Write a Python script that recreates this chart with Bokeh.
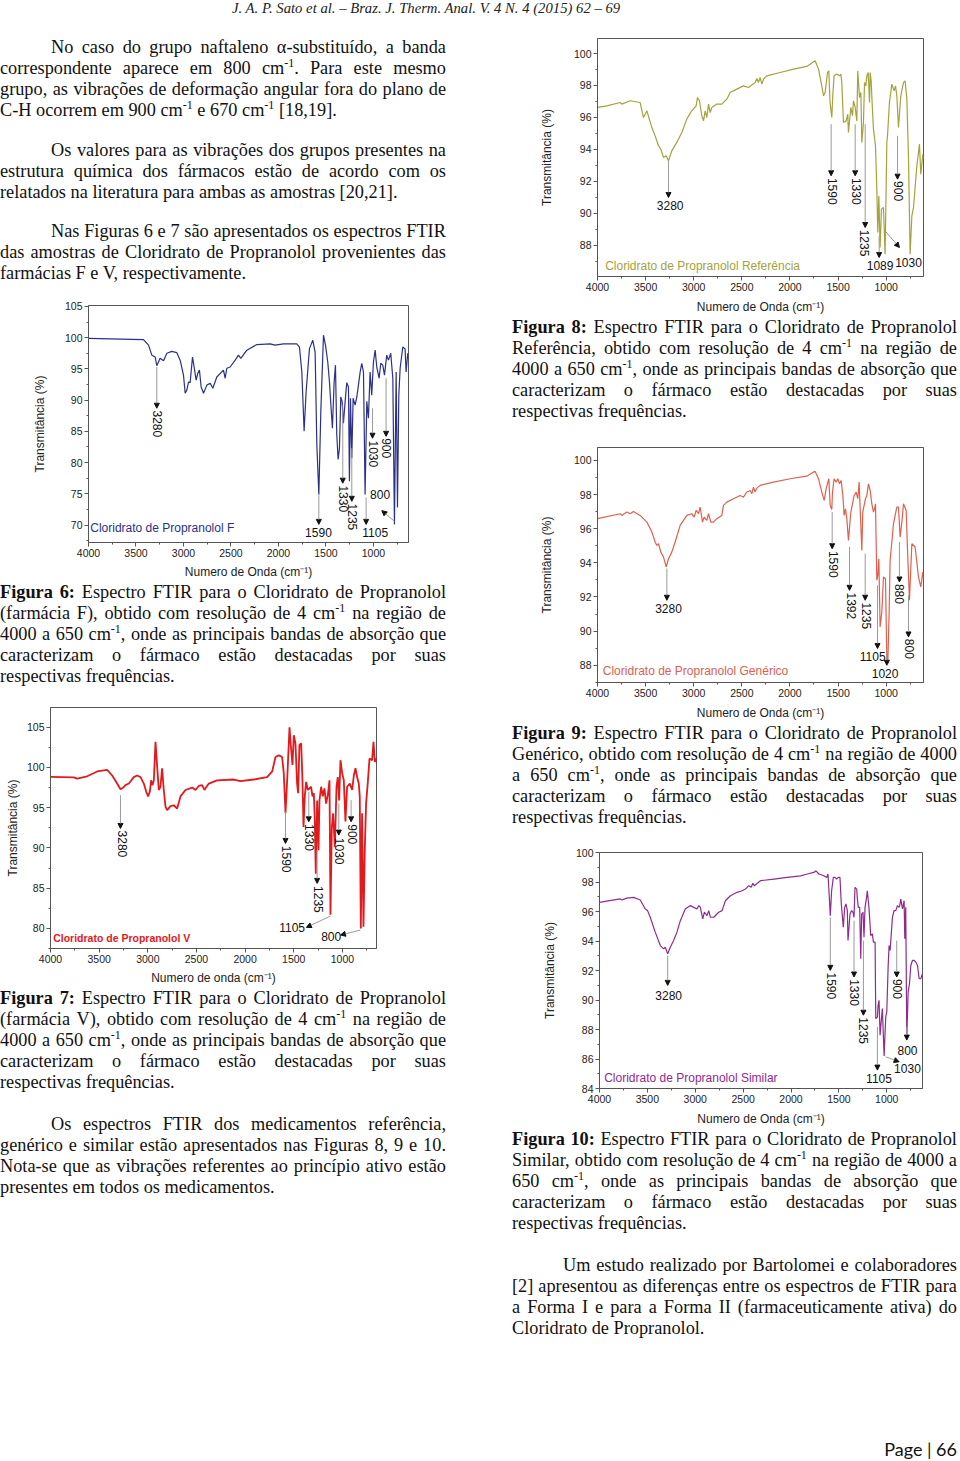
from bokeh.plotting import figure
from bokeh.models import Range1d, FixedTicker, Div, Spacer, Arrow, NormalHead, ColumnDataSource
from bokeh.layouts import column, row
from bokeh.core.properties import value
from bokeh.embed import file_html
from bokeh.resources import INLINE

# ---------------- data ----------------
X_TICKS = [4000, 3500, 3000, 2500, 2000, 1500, 1000]
X_MINOR = [3750, 3250, 2750, 2250, 1750, 1250, 750]

# Figura 6 - farmácia F  (wavenumber, transmittance)
F_PTS = [(4000, 99.9), (3421, 99.7), (3368, 98.8), (3333, 97.2), (3298, 96.9), (3281, 95.5), (3246, 96.7),
         (3210, 96.3), (3175, 97.5), (3123, 97.8), (3070, 97.6), (3035, 96.4), (3000, 94.0), (2982, 91.1),
         (2965, 91.6), (2947, 92.9), (2930, 92.8), (2905, 96.9), (2888, 95.3), (2867, 93.2), (2849, 94.3),
         (2832, 94.8), (2814, 92.1), (2789, 91.1), (2754, 92.4), (2719, 92.7), (2691, 91.9), (2649, 93.7),
         (2579, 94.8), (2561, 93.5), (2544, 95.1), (2509, 95.3), (2456, 96.4), (2421, 97.2), (2396, 96.7),
         (2333, 98.0), (2228, 98.9), (2088, 99.0), (2035, 98.8), (1947, 99.0), (1807, 99.0), (1779, 98.5),
         (1754, 94.5), (1730, 85.0), (1709, 91.3), (1674, 98.2), (1639, 99.6), (1614, 97.7), (1596, 82.8),
         (1575, 74.9), (1554, 88.2), (1526, 100.4), (1505, 98.8), (1481, 96.1), (1463, 92.9), (1446, 88.7),
         (1432, 85.5), (1414, 92.9), (1400, 95.6), (1386, 84.4), (1372, 80.5), (1358, 82.3), (1344, 90.5),
         (1330, 89.8), (1316, 86.3), (1298, 89.8), (1281, 92.8), (1263, 92.1), (1253, 77.0), (1242, 90.3),
         (1228, 80.7), (1214, 90.3), (1193, 89.2), (1175, 90.5), (1158, 92.4), (1140, 94.5), (1123, 95.9),
         (1105, 94.5), (1088, 74.9), (1070, 89.8), (1053, 87.1), (1035, 94.5), (1018, 90.8), (1000, 96.1),
         (982, 98.0), (965, 95.3), (940, 93.5), (923, 95.9), (902, 95.6), (884, 94.0), (860, 97.2),
         (842, 96.4), (818, 97.5), (796, 93.5), (779, 70.1), (761, 94.5), (747, 72.8), (733, 90.8),
         (719, 95.1), (691, 98.5), (667, 98.2), (656, 94.5), (639, 97.5)]
F_YTICKS = [70, 75, 80, 85, 90, 95, 100, 105]
F_YMINOR = [67.5, 72.5, 77.5, 82.5, 87.5, 92.5, 97.5, 102.5]
F_ARROWS = [(3281, 95.3, 3281, 88.7), (1575, 74.9, 1575, 70.1), (1323, 89.2, 1323, 76.7),
            (1228, 82.3, 1228, 73.8), (1077, 74.4, 1077, 70.1), (1010, 88.7, 1010, 83.9),
            (867, 93.5, 867, 84.2), (779, 70.6, 912, 72.3)]
F_LABELS = [("3280", 3274, 86.2, -90), ("1590", 1579, 68.8, 0), ("1330", 1316, 74.2, -90),
            ("1235", 1217, 71.3, -90), ("1105", 982, 68.8, 0), ("1030", 1000, 81.4, -90),
            ("900", 867, 82.3, -90), ("800", 930, 74.9, 0)]

# Figura 7 - farmácia V
V_PTS = [(4000, 98.84), (3760, 98.76), (3726, 98.6), (3623, 98.9), (3520, 99.5), (3418, 99.7), (3366, 99.0),
         (3315, 98.0), (3281, 97.3), (3253, 97.5), (3229, 97.8), (3195, 98.0), (3144, 98.8), (3110, 99.0),
         (3075, 98.8), (3041, 98.0), (3017, 97.0), (2997, 96.4), (2979, 97.0), (2966, 98.4), (2952, 97.8),
         (2938, 98.4), (2921, 103.2), (2904, 100.1), (2887, 97.2), (2870, 97.6), (2853, 99.9), (2836, 97.2),
         (2818, 95.1), (2801, 94.7), (2767, 95.2), (2733, 95.3), (2699, 94.9), (2664, 96.4), (2613, 97.2),
         (2544, 97.5), (2510, 97.2), (2476, 97.7), (2442, 97.8), (2418, 97.2), (2397, 97.6), (2373, 98.0),
         (2288, 98.4), (2116, 98.5), (2048, 98.3), (1911, 98.5), (1774, 98.8), (1722, 99.5), (1688, 101.3),
         (1654, 101.5), (1620, 101.3), (1603, 99.3), (1585, 94.3), (1568, 98.4), (1544, 105.0), (1527, 102.2),
         (1513, 100.3), (1500, 104.0), (1483, 103.0), (1466, 98.0), (1455, 96.8), (1442, 102.8), (1424, 103.0),
         (1411, 98.4), (1400, 92.6), (1387, 96.4), (1373, 98.2), (1356, 97.2), (1339, 97.4), (1322, 97.6),
         (1308, 96.4), (1294, 96.8), (1284, 93.5), (1274, 86.8), (1260, 95.9), (1246, 89.7), (1236, 95.9),
         (1219, 97.6), (1202, 96.4), (1185, 97.4), (1168, 95.5), (1150, 96.6), (1133, 98.4), (1123, 81.7),
         (1109, 92.6), (1096, 94.3), (1078, 90.1), (1061, 97.6), (1048, 98.8), (1034, 95.9), (1020, 100.9),
         (1003, 99.3), (986, 98.4), (969, 93.3), (952, 97.6), (924, 98.0), (900, 97.2), (883, 99.0),
         (866, 99.9), (849, 98.8), (832, 98.0), (822, 96.4), (811, 80.0), (798, 94.3), (784, 80.2),
         (770, 90.1), (757, 95.5), (739, 98.2), (722, 101.1), (695, 100.9), (681, 103.2), (667, 100.7),
         (650, 101.1)]
V_YTICKS = [80, 85, 90, 95, 100, 105]
V_YMINOR = [77.5, 82.5, 87.5, 92.5, 97.5, 102.5]
V_ARROWS = [(3281, 96.56, 3281, 92.42), (1585, 94.49, 1585, 90.56), (1346, 96.98, 1346, 93.25),
            (1260, 89.73, 1260, 85.59), (1037, 95.53, 1037, 91.59), (911, 95.94, 911, 93.25),
            (1123, 81.53, 1370, 80.12), (815, 79.79, 1020, 79.17)]
V_LABELS = [("3280", 3264, 90.5, -90), ("1590", 1579, 88.6, -90), ("1330", 1339, 91.3, -90),
            ("1235", 1243, 83.6, -90), ("1030", 1031, 89.6, -90), ("900", 900, 91.7, -90),
            ("1105", 1517, 80.12, 0), ("800", 1116, 79.05, 0)]

# Figura 8 - Referência
R_PTS = [(4000, 96.62), (3903, 96.72), (3764, 96.93), (3747, 96.83), (3661, 97.04), (3557, 96.93),
         (3522, 95.99), (3487, 96.41), (3435, 95.36), (3401, 94.84), (3366, 94.22), (3342, 94.01),
         (3314, 93.49), (3286, 93.59), (3262, 93.28), (3228, 93.90), (3176, 94.43), (3124, 95.05),
         (3072, 95.89), (3020, 96.41), (2975, 96.72), (2961, 97.24), (2940, 97.04), (2916, 96.10),
         (2898, 95.78), (2881, 96.41), (2864, 95.99), (2846, 96.83), (2829, 96.30), (2812, 96.62),
         (2760, 96.83), (2708, 96.83), (2656, 97.14), (2621, 97.56), (2552, 97.77), (2483, 97.97),
         (2431, 97.87), (2362, 98.18), (2344, 98.43), (2327, 98.18), (2310, 98.50), (2292, 98.08),
         (2275, 98.39), (2240, 98.60), (2102, 98.81), (1963, 99.02), (1825, 99.19), (1738, 99.54),
         (1703, 99.02), (1669, 97.97), (1651, 97.35), (1634, 97.56), (1610, 98.81), (1596, 98.91),
         (1583, 96.93), (1565, 95.99), (1555, 97.35), (1541, 98.60), (1513, 98.71), (1485, 98.60),
         (1471, 98.71), (1461, 98.18), (1444, 95.68), (1416, 95.78), (1399, 96.20), (1392, 95.05),
         (1367, 96.62), (1350, 96.10), (1340, 97.04), (1322, 96.62), (1305, 95.78), (1295, 98.91),
         (1277, 97.24), (1263, 97.56), (1253, 94.43), (1236, 95.68), (1225, 98.18), (1211, 97.97),
         (1201, 98.60), (1187, 98.81), (1173, 96.93), (1166, 98.81), (1156, 98.29), (1146, 96.93),
         (1132, 95.26), (1111, 94.22), (1097, 91.50), (1087, 88.79), (1076, 91.08), (1063, 87.85),
         (1049, 90.25), (1028, 90.35), (1011, 87.43), (993, 94.43), (986, 94.84), (966, 96.93),
         (941, 98.08), (917, 97.66), (903, 97.97), (889, 97.35), (872, 95.36), (848, 97.35),
         (820, 98.18), (803, 98.29), (785, 97.14), (768, 93.49), (751, 87.43), (733, 89.83),
         (716, 90.35), (681, 92.96), (654, 94.32), (640, 92.44), (619, 93.69), (612, 93.38)]
R_YTICKS = [86, 88, 90, 92, 94, 96, 98, 100]
R_YMINOR = [87, 89, 91, 93, 95, 97, 99]
R_ARROWS = [(3262, 93.28, 3262, 90.98), (1572, 95.57, 1572, 92.34), (1322, 95.57, 1322, 92.34),
            (1218, 95.57, 1218, 89.10), (1073, 88.58, 1073, 87.22), (1011, 88.89, 862, 87.85),
            (882, 94.84, 882, 92.13)]
R_LABELS = [("3280", 3245, 90.46, 0), ("1590", 1556, 91.37, -90), ("1330", 1306, 91.37, -90),
            ("1235", 1230, 88.13, -90), ("1089", 1063, 86.70, 0), ("1030", 768, 86.91, 0),
            ("900", 872, 91.38, -90)]

# Figura 9 - Genérico
G_PTS = [(4000, 96.59), (3764, 96.88), (3747, 96.78), (3695, 96.98), (3661, 96.88), (3626, 97.01),
         (3557, 96.78), (3487, 96.39), (3435, 95.81), (3401, 95.22), (3383, 95.02), (3366, 95.12),
         (3342, 94.63), (3314, 94.34), (3286, 93.76), (3262, 94.24), (3228, 94.63), (3193, 95.22),
         (3141, 96.20), (3072, 96.78), (3020, 96.88), (2995, 96.68), (2975, 97.07), (2950, 96.88),
         (2933, 97.27), (2909, 96.39), (2892, 96.68), (2864, 96.49), (2846, 96.88), (2822, 96.39),
         (2795, 96.39), (2760, 96.59), (2708, 96.78), (2691, 97.37), (2656, 97.56), (2587, 97.76),
         (2517, 97.95), (2483, 97.85), (2448, 98.15), (2413, 98.24), (2396, 98.05), (2379, 98.44),
         (2362, 98.15), (2344, 98.38), (2310, 98.54), (2171, 98.73), (1998, 98.93), (1825, 99.08),
         (1755, 99.32), (1738, 99.36), (1703, 98.93), (1669, 98.15), (1644, 97.66), (1624, 98.34),
         (1596, 98.93), (1582, 97.37), (1565, 97.13), (1558, 98.15), (1541, 98.93), (1520, 98.73),
         (1502, 98.93), (1485, 98.63), (1468, 98.83), (1450, 97.95), (1437, 96.78), (1423, 97.17),
         (1409, 96.59), (1392, 95.32), (1367, 96.98), (1350, 97.46), (1333, 97.95), (1312, 98.15),
         (1295, 97.76), (1281, 98.73), (1270, 97.17), (1253, 94.73), (1243, 96.98), (1229, 97.37),
         (1215, 97.76), (1201, 97.95), (1184, 98.63), (1166, 98.24), (1149, 97.46), (1132, 96.98),
         (1121, 97.17), (1111, 97.46), (1097, 92.98), (1087, 93.27), (1076, 94.24), (1063, 90.24),
         (1045, 91.12), (1028, 93.17), (1007, 93.07), (993, 88.29), (983, 88.10), (969, 91.12),
         (959, 94.15), (941, 95.22), (924, 96.29), (907, 96.78), (889, 97.27), (872, 97.27),
         (855, 95.51), (837, 96.39), (820, 97.46), (792, 97.07), (778, 94.73), (758, 91.81),
         (733, 95.12), (699, 94.93), (664, 93.17), (640, 92.59), (619, 93.46), (612, 93.07)]
G_YTICKS = [88, 90, 92, 94, 96, 98, 100]
G_YMINOR = [87, 89, 91, 93, 95, 97, 99]
G_ARROWS = [(3279, 93.66, 3279, 91.81), (1561, 96.98, 1561, 94.83), (1381, 94.93, 1381, 92.39),
            (1218, 94.54, 1218, 91.81), (1090, 92.68, 1090, 88.98), (993, 88.59, 993, 88.00),
            (862, 95.22, 862, 92.88), (768, 92.10, 768, 89.66)]
G_LABELS = [("3280", 3262, 91.32, 0), ("1590", 1550, 93.92, -90), ("1392", 1362, 91.48, -90),
            ("1235", 1200, 90.9, -90), ("1105", 1140, 88.49, 0), ("1020", 1011, 87.51, 0),
            ("880", 862, 92.18, -90), ("800", 755, 88.96, -90)]

# Figura 10 - Similar
S_PTS = [(4000, 96.62), (3784, 96.85), (3766, 96.78), (3714, 96.91), (3644, 96.96), (3574, 96.78),
         (3522, 96.17), (3498, 96.06), (3470, 95.61), (3418, 94.60), (3365, 93.69), (3330, 93.47),
         (3313, 93.58), (3288, 93.13), (3261, 93.58), (3226, 94.03), (3191, 94.60), (3156, 95.38),
         (3104, 96.17), (3051, 96.40), (3016, 96.28), (2982, 96.17), (2964, 96.40), (2947, 96.28),
         (2922, 95.50), (2905, 95.95), (2877, 95.72), (2859, 96.06), (2842, 95.61), (2807, 95.61),
         (2755, 95.95), (2720, 96.06), (2685, 96.73), (2633, 97.07), (2563, 97.30), (2511, 97.41),
         (2476, 97.52), (2441, 97.75), (2416, 97.64), (2399, 97.91), (2382, 97.75), (2361, 97.86),
         (2319, 98.09), (2179, 98.20), (2040, 98.31), (1900, 98.42), (1830, 98.54), (1761, 98.65),
         (1740, 98.76), (1708, 98.54), (1656, 98.42), (1628, 98.31), (1614, 98.54), (1600, 96.96),
         (1590, 95.72), (1576, 97.41), (1558, 98.31), (1541, 98.31), (1524, 98.20), (1506, 98.31),
         (1489, 98.31), (1475, 96.51), (1454, 94.93), (1440, 96.28), (1426, 96.51), (1412, 96.06),
         (1405, 94.03), (1384, 95.83), (1367, 96.06), (1353, 95.95), (1342, 95.61), (1332, 97.64),
         (1314, 97.52), (1307, 96.85), (1297, 96.28), (1283, 96.28), (1272, 92.79), (1262, 95.83),
         (1248, 95.95), (1238, 94.26), (1227, 96.28), (1213, 96.85), (1203, 97.41), (1185, 96.17),
         (1168, 94.37), (1150, 94.48), (1140, 93.92), (1122, 93.92), (1115, 88.74), (1098, 88.85),
         (1091, 89.64), (1081, 89.98), (1070, 87.61), (1063, 88.18), (1046, 89.42), (1028, 86.20),
         (1011, 88.85), (1000, 89.19), (986, 92.23), (976, 93.69), (965, 93.36), (941, 95.61),
         (924, 96.06), (906, 96.06), (889, 96.40), (871, 96.28), (861, 96.51), (854, 96.85),
         (836, 96.17), (819, 96.73), (812, 94.15), (802, 96.28), (791, 87.39), (777, 90.54),
         (763, 91.10), (749, 92.34), (732, 92.68), (714, 92.68), (697, 92.57), (679, 92.34),
         (662, 91.44), (645, 91.44), (627, 91.78)]
S_YTICKS = [84, 86, 88, 90, 92, 94, 96, 98, 100]
S_YMINOR = [85, 87, 89, 91, 93, 95, 97, 99]
S_ARROWS = [(3288, 93.02, 3288, 90.99), (1590, 95.61, 1590, 92.01), (1342, 95.38, 1342, 91.56),
            (1244, 94.03, 1244, 88.97), (1098, 88.18, 1098, 85.25), (1011, 86.15, 871, 85.81),
            (896, 94.03, 896, 91.56), (791, 88.18, 791, 87.28)]
S_LABELS = [("3280", 3278, 90.32, 0), ("1590", 1579, 90.96, -90), ("1330", 1332, 90.51, -90),
            ("1235", 1244, 87.92, -90), ("1105", 1081, 84.69, 0), ("1030", 784, 85.36, 0),
            ("900", 889, 90.75, -90), ("800", 784, 86.60, 0)]

# ---------------- helpers ----------------
SANS = "Liberation Sans"
SERIF = "'Liberation Serif', 'Times New Roman', serif"


def spectrum(pts, color, lw, x_end, y_lo, y_hi, yt, ym, W, H, bl, br, bt, bb, ystand, xstand,
             xtitle, legend, leg_x, leg_y, leg_style, leg_size, arrows, labels):
    p = figure(width=W, height=H, x_range=Range1d(4000, x_end), y_range=Range1d(y_lo, y_hi),
               output_backend="svg", toolbar_location=None,
               min_border_left=bl, min_border_right=br, min_border_top=bt, min_border_bottom=bb,
               background_fill_color="white", border_fill_color="white")
    p.grid.visible = False
    p.outline_line_color = "#555"
    p.outline_line_width = 1
    p.xaxis.ticker = FixedTicker(ticks=X_TICKS, minor_ticks=X_MINOR)
    p.yaxis.ticker = FixedTicker(ticks=yt, minor_ticks=ym)
    for ax in (p.xaxis[0], p.yaxis[0]):
        ax.axis_line_color = "#555"
        ax.major_tick_line_color = "#555"
        ax.minor_tick_line_color = "#555"
        ax.major_tick_in = 0
        ax.major_tick_out = 4
        ax.minor_tick_in = 0
        ax.minor_tick_out = 2
        ax.major_label_text_font = SANS
        ax.major_label_text_font_size = "10.5px"
        ax.major_label_text_color = "#222"
        ax.axis_label_text_font = SANS
        ax.axis_label_text_font_size = "12px"
        ax.axis_label_text_font_style = "normal"
        ax.axis_label_text_color = "#222"
        ax.major_label_standoff = 2
    p.yaxis.axis_label_standoff = ystand
    p.xaxis.axis_label_standoff = xstand
    p.xaxis.axis_label = xtitle
    p.yaxis.axis_label = "Transmitância (%)"
    p.line([q[0] for q in pts], [q[1] for q in pts], line_color=color, line_width=lw)
    src = ColumnDataSource(dict(x0=[a[0] for a in arrows], y0=[a[1] for a in arrows],
                                x1=[a[2] for a in arrows], y1=[a[3] for a in arrows]))
    p.add_layout(Arrow(end=NormalHead(size=5, fill_color="#111", line_color="#111", line_width=1),
                       x_start="x0", y_start="y0", x_end="x1", y_end="y1", source=src,
                       line_color="#9a9a9a", line_width=1))
    p.text(x=[l[1] for l in labels], y=[l[2] for l in labels], text=[l[0] for l in labels],
           angle=[l[3] for l in labels], angle_units="deg", text_align="center",
           text_baseline="middle", text_font=value(SANS), text_font_size="12px", text_color="#111")
    p.text(x=[leg_x], y=[leg_y], text=[legend], text_align="left", text_baseline="middle",
           text_font=value(SANS), text_font_size=leg_size, text_font_style=leg_style, text_color=color)
    return row(p, width=W, height=H)


SUP = '<sup style="font-size:12px;line-height:0;">-1</sup>'


def render(s):
    return s.replace("^-1", SUP)


def para_html(lines, indent, gap):
    out = [f'<div style="height:{gap}px;"></div>']
    n = len(lines)
    for i, ln in enumerate(lines):
        pad = indent if i == 0 else 0
        if i < n - 1:
            words = "".join(f"<span>{render(w)}</span>" for w in ln.split(" "))
            out.append(f'<div style="display:flex;justify-content:space-between;height:21px;'
                       f'line-height:21px;white-space:nowrap;padding-left:{pad}px;">{words}</div>')
        else:
            out.append(f'<div style="height:21px;line-height:21px;white-space:nowrap;'
                       f'padding-left:{pad}px;">{render(ln)}</div>')
    return "".join(out)


def text_div(paras, width, height, tw=None):
    tw = tw or width
    body = "".join(para_html(l, ind, g) for l, ind, g in paras)
    html = (f'<div style="font-family:{SERIF};font-size:18.3px;color:#111;width:{tw}px;'
            f'box-sizing:border-box;">{body}</div>')
    return Div(text=html, width=width, height=height, margin=(0, 0, 0, 0))


def caption(num, kind):
    first = f"<b>Figura</b> <b>{num}:</b> Espectro FTIR para o Cloridrato de Propranolol"
    if kind in ("(farmácia F)", "(farmácia V)"):
        l2 = f"{kind}, obtido com resolução de 4 cm^-1 na região de"
        l3 = "4000 a 650 cm^-1, onde as principais bandas de absorção que"
    elif kind == "Referência":
        l2 = "Referência, obtido com resolução de 4 cm^-1 na região de"
        l3 = "4000 a 650 cm^-1, onde as principais bandas de absorção que"
    elif kind == "Genérico":
        l2 = "Genérico, obtido com resolução de 4 cm^-1 na região de 4000"
        l3 = "a 650 cm^-1, onde as principais bandas de absorção que"
    else:
        l2 = "Similar, obtido com resolução de 4 cm^-1 na região de 4000 a"
        l3 = "650 cm^-1, onde as principais bandas de absorção que"
    return [first, l2, l3, "caracterizam o fármaco estão destacadas por suas",
            "respectivas frequências."]


# ---------------- page ----------------
LW, RW = 446, 448
RT = 445

header = Div(text='<div style="font-family:' + SERIF + ';font-style:italic;font-size:14.7px;'
             'line-height:16px;padding-left:232px;white-space:nowrap;color:#222;">'
             'J. A. P. Sato et al. – Braz. J. Therm. Anal. V. 4 N. 4 (2015) 62 – 69</div>',
             width=960, height=30, margin=(0, 0, 0, 0))

top_left = text_div([
    (["No caso do grupo naftaleno α-substituído, a banda",
      "correspondente aparece em 800 cm^-1. Para este mesmo",
      "grupo, as vibrações de deformação angular fora do plano de",
      "C-H ocorrem em 900 cm^-1 e 670 cm^-1 [18,19]."], 51, 6.5),
    (["Os valores para as vibrações dos grupos presentes na",
      "estrutura química dos fármacos estão de acordo com os",
      "relatados na literatura para ambas as amostras [20,21]."], 51, 19),
    (["Nas Figuras 6 e 7 são apresentados os espectros FTIR",
      "das amostras de Cloridrato de Propranolol provenientes das",
      "farmácias F e V, respectivamente."], 51, 18)], LW, 254)

XT = "Numero de Onda (cm⁻¹)"

fig6 = spectrum(F_PTS, "#2b3088", 1.2, 631, 67.2, 105.15, F_YTICKS, F_YMINOR,
                LW, 297, 88, 38, 21, 38, 15, 5, XT, "Cloridrato de Propranolol F", 3982, 69.6,
                "normal", "12px", F_ARROWS, F_LABELS)
cap6 = text_div([(caption(6, "(farmácia F)"), 0, 0.5)], LW, 107)
fig7 = spectrum(V_PTS, "#e3191c", 1.8, 650, 77.5, 107.45, V_YTICKS, V_YMINOR,
                LW, 299, 50, 70, 19, 39, 4, 5, "Numero de onda (cm⁻¹)",
                "Cloridrato de Propranolol V", 3973, 78.76, "bold", "10.5px", V_ARROWS, V_LABELS)
cap7 = text_div([(caption(7, "(farmácia V)"), 0, 0.5)], LW, 106)
bot_left = text_div([
    (["Os espectros FTIR dos medicamentos referência,",
      "genérico e similar estão apresentados nas Figuras 8, 9 e 10.",
      "Nota-se que as vibrações referentes ao princípio ativo estão",
      "presentes em todos os medicamentos."], 51, 20.5)], LW, 120)

fig8 = spectrum(R_PTS, "#a3a33c", 1.2, 612, 86.03, 100.94, R_YTICKS, R_YMINOR,
                RW, 286, 85, 37, 8, 40, 17, 6, XT, "Cloridrato de Propranolol Referência", 3920, 86.7,
                "normal", "12px", R_ARROWS, R_LABELS)
cap8 = text_div([(caption(8, "Referência"), 0, 0.5)], RW, 106, RT)
fig9 = spectrum(G_PTS, "#e0604e", 1.2, 612, 86.99, 100.76, G_YTICKS, G_YMINOR,
                RW, 300, 85, 37, 25, 40, 17, 6, XT, "Cloridrato de Propranolol Genérico", 3945, 87.65,
                "normal", "12px", G_ARROWS, G_LABELS)
cap9 = text_div([(caption(9, "Genérico"), 0, 0.5)], RW, 106, RT)
fig10 = spectrum(S_PTS, "#8e2b8e", 1.2, 627, 84.0, 100.0, S_YTICKS, S_YMINOR,
                 RW, 300, 87, 38, 24, 40, 16, 6, XT, "Cloridrato de Propranolol Similar", 3951, 84.69,
                 "normal", "12px", S_ARROWS, S_LABELS)
cap10 = text_div([(caption(10, "Similar"), 0, 0.5)], RW, 106, RT)
bot_right = text_div([
    (["Um estudo realizado por Bartolomei e colaboradores",
      "[2] apresentou as diferenças entre os espectros de FTIR para",
      "a Forma I e para a Forma II (farmaceuticamente ativa) do",
      "Cloridrato de Propranolol."], 51, 20.5)], RW, 110, RT)

left = column(top_left, fig6, cap6, fig7, cap7, bot_left, Spacer(width=LW, height=225),
              width=LW, height=1408)
right = column(fig8, cap8, fig9, cap9, fig10, cap10, bot_right, Spacer(width=RW, height=94),
               width=RW, height=1408)
body = row(left, Spacer(width=66, height=1408), right, width=960, height=1408)

footer = Div(text='<div style="font-family:Lato;font-size:18px;line-height:22px;text-align:right;'
             'width:957px;color:#111;">Page | 66</div>', width=960, height=22, margin=(0, 0, 0, 0))

p = column(header, body, footer, width=960, height=1460)

open("out.html", "w").write(file_html(p, INLINE))
